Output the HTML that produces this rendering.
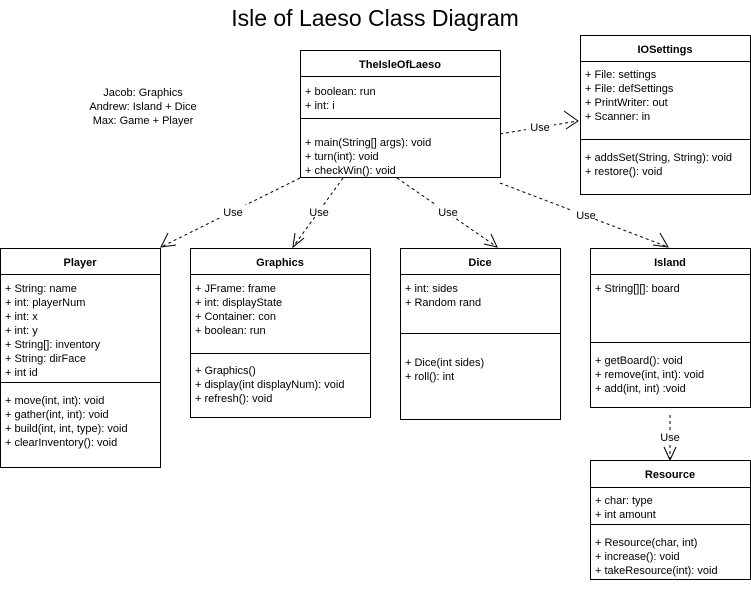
<!DOCTYPE html>
<html><head><meta charset="utf-8"><style>
body{margin:0;background:#fff}
svg text{font-family:"Liberation Sans",Arial,sans-serif;font-size:11px;fill:#000}
.b{font-weight:bold}
</style></head><body>
<svg width="751" height="584" viewBox="0 0 751 584" xmlns="http://www.w3.org/2000/svg">
<rect width="751" height="584" fill="#fff"/>
<text x="375" y="26" text-anchor="middle" style="font-size:23px">Isle of Laeso Class Diagram</text>
<g text-anchor="middle"><text x="143" y="96">Jacob: Graphics</text><text x="143" y="110">Andrew: Island + Dice</text><text x="143" y="124">Max: Game + Player</text></g>
<g fill="#fff" stroke="#000" stroke-width="1">
<rect x="300.5" y="50.5" width="200" height="127"/><line x1="300" y1="76.5" x2="500" y2="76.5"/><line x1="300" y1="118.5" x2="500" y2="118.5"/>
<rect x="580.5" y="35.5" width="170" height="159"/><line x1="580" y1="61.5" x2="750" y2="61.5"/><line x1="580" y1="139.5" x2="750" y2="139.5"/>
<rect x="0.5" y="248.5" width="160" height="219"/><line x1="0" y1="274.5" x2="160" y2="274.5"/><line x1="0" y1="382.5" x2="160" y2="382.5"/>
<rect x="190.5" y="248.5" width="180" height="169"/><line x1="190" y1="274.5" x2="370" y2="274.5"/><line x1="190" y1="353.5" x2="370" y2="353.5"/>
<rect x="400.5" y="248.5" width="160" height="171"/><line x1="400" y1="274.5" x2="560" y2="274.5"/><line x1="400" y1="333.5" x2="560" y2="333.5"/>
<rect x="590.5" y="248.5" width="160" height="159"/><line x1="590" y1="274.5" x2="750" y2="274.5"/><line x1="590" y1="342.5" x2="750" y2="342.5"/>
<rect x="590.5" y="460.5" width="160" height="119"/><line x1="590" y1="487.5" x2="750" y2="487.5"/><line x1="590" y1="524.5" x2="750" y2="524.5"/>
</g>
<g class="b" text-anchor="middle">
<text class="b" x="400" y="68">TheIsleOfLaeso</text>
<text class="b" x="665" y="53">IOSettings</text>
<text class="b" x="80" y="266">Player</text>
<text class="b" x="280" y="266">Graphics</text>
<text class="b" x="480" y="266">Dice</text>
<text class="b" x="670" y="266">Island</text>
<text class="b" x="670" y="478">Resource</text>
</g>
<g>
<text x="305" y="95">+ boolean: run</text><text x="305" y="109">+ int: i</text>
<text x="305" y="146">+ main(String[] args): void</text><text x="305" y="160">+ turn(int): void</text><text x="305" y="174">+ checkWin(): void</text>
<text x="585" y="78">+ File: settings</text><text x="585" y="92">+ File: defSettings</text><text x="585" y="106">+ PrintWriter: out</text><text x="585" y="120">+ Scanner: in</text>
<text x="585" y="161">+ addsSet(String, String): void</text><text x="585" y="175">+ restore(): void</text>
<text x="5" y="292">+ String: name</text><text x="5" y="306">+ int: playerNum</text><text x="5" y="320">+ int: x</text><text x="5" y="334">+ int: y</text><text x="5" y="348">+ String[]: inventory</text><text x="5" y="362">+ String: dirFace</text><text x="5" y="376">+ int id</text>
<text x="5" y="404">+ move(int, int): void</text><text x="5" y="418">+ gather(int, int): void</text><text x="5" y="432">+ build(int, int, type): void</text><text x="5" y="446">+ clearInventory(): void</text>
<text x="195" y="292">+ JFrame: frame</text><text x="195" y="306">+ int: displayState</text><text x="195" y="320">+ Container: con</text><text x="195" y="334">+ boolean: run</text>
<text x="195" y="374">+ Graphics()</text><text x="195" y="388">+ display(int displayNum): void</text><text x="195" y="402">+ refresh(): void</text>
<text x="405" y="292">+ int: sides</text><text x="405" y="306">+ Random rand</text>
<text x="405" y="366">+ Dice(int sides)</text><text x="405" y="380">+ roll(): int</text>
<text x="595" y="292">+ String[][]: board</text>
<text x="595" y="364">+ getBoard(): void</text><text x="595" y="378">+ remove(int, int): void</text><text x="595" y="392">+ add(int, int) :void</text>
<text x="595" y="504">+ char: type</text><text x="595" y="518">+ int amount</text>
<text x="595" y="546">+ Resource(char, int)</text><text x="595" y="560">+ increase(): void</text><text x="595" y="574">+ takeResource(int): void</text>
</g>
<g stroke="#000" fill="none" stroke-dasharray="3,3">
<line x1="300" y1="178" x2="161" y2="247"/>
<line x1="343" y1="178" x2="293" y2="247"/>
<line x1="397" y1="178" x2="497" y2="247"/>
<line x1="500" y1="183" x2="668" y2="247"/>
<line x1="500" y1="134" x2="578" y2="121"/>
<line x1="670" y1="415" x2="670" y2="459"/>
</g>
<g stroke="#000" fill="none">
<polyline points="168,233 161,247 176,245"/>
<polyline points="295,233 293,247 304,238"/>
<polyline points="484,244 497,247 491,234"/>
<polyline points="653,245 668,247 660,233"/>
<polyline points="564,111 578,121 566,129"/>
<polyline points="664,447 670,460 676,447"/>
</g>
<g text-anchor="middle">
<rect x="218" y="205" width="30" height="12" fill="#fff"/><text x="233" y="216">Use</text>
<rect x="305" y="205" width="28" height="12" fill="#fff"/><text x="319" y="216">Use</text>
<rect x="434" y="205" width="28" height="12" fill="#fff"/><text x="448" y="216">Use</text>
<rect x="572" y="207" width="28" height="12" fill="#fff"/><text x="586" y="219">Use</text>
<rect x="526" y="121" width="28" height="12" fill="#fff"/><text x="540" y="131">Use</text>
<rect x="656" y="430" width="28" height="12" fill="#fff"/><text x="670" y="441">Use</text>
</g>
</svg>
</body></html>
